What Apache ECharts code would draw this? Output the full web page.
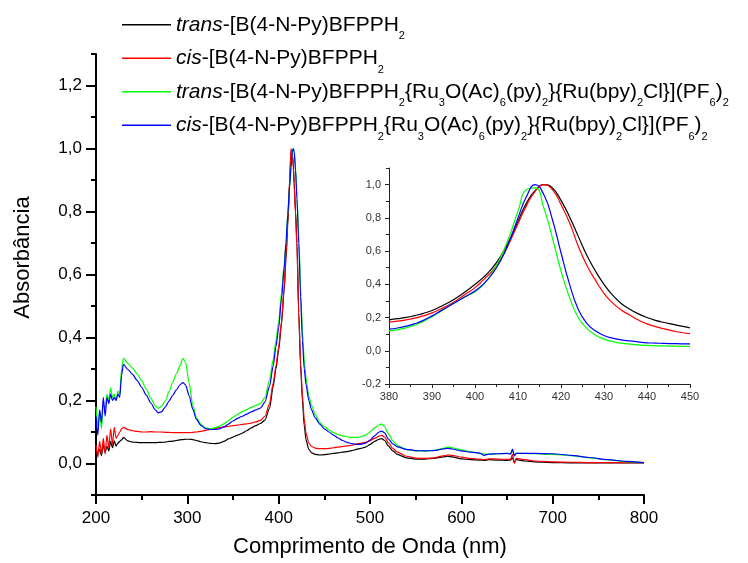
<!DOCTYPE html>
<html>
<head>
<meta charset="utf-8">
<script src="https://cdn.jsdelivr.net/npm/echarts@6/dist/echarts.min.js"></script>
<style>
html,body{margin:0;padding:0;background:#fff;}
#chart{width:748px;height:563px;}
</style>
</head>
<body>
<div id="chart"></div>
<script>
// ---------- main spectrum data ----------
const wl = [
 200,202,204,206,208,210,212,214,216,218,220,222,224,226,228,230,
 235,240,245,250,255,260,265,268,272,276,280,284,288,292,295,298,
 302,306,310,315,320,325,330,335,340,345,350,355,360,365,370,375,
 380,385,390,394,397,400,403,406,408,410,412,413.5,415,416,417,418.5,
 420,422,424,426,428,430,433,436,440,445,450,455,460,465,470,475,
 480,485,490,495,500,505,510,513,516,520,525,530,540,550,560,570,
 580,585,590,600,610,620,625,630,640,650,654,656,658,660,670,680,
 700,720,740,760,780,800
];
const transFree = [
 0.05,0.03,0.045,0.025,0.06,0.035,0.055,0.04,0.07,0.05,0.072,0.055,0.065,0.07,0.075,0.083,
 0.072,0.068,0.067,0.066,0.066,0.066,0.066,0.067,0.067,0.068,0.07,0.071,0.073,0.075,0.076,0.077,
 0.077,0.076,0.073,0.069,0.066,0.064,0.063,0.065,0.07,0.078,0.084,0.09,0.096,0.104,0.113,0.12,
 0.127,0.138,0.175,0.245,0.3,0.36,0.44,0.55,0.65,0.76,0.89,0.99,0.98,0.95,0.89,0.8,
 0.7,0.48,0.31,0.2,0.12,0.075,0.045,0.034,0.029,0.027,0.028,0.03,0.032,0.034,0.036,0.038,
 0.041,0.045,0.048,0.052,0.06,0.07,0.077,0.079,0.073,0.056,0.04,0.029,0.018,0.014,0.014,0.016,
 0.021,0.023,0.021,0.015,0.012,0.011,0.01,0.012,0.011,0.01,0.011,0.018,0.004,0.012,0.008,0.005,
 0.003,0.002,0.002,0.002,0.002,0.002
];
const cisFree = [
 0.06,0.02,0.07,0.03,0.08,0.03,0.09,0.05,0.11,0.06,0.115,0.08,0.09,0.1,0.11,0.115,
 0.108,0.104,0.102,0.1,0.1,0.101,0.1,0.1,0.1,0.099,0.099,0.098,0.098,0.098,0.098,0.098,
 0.098,0.099,0.1,0.102,0.105,0.108,0.111,0.114,0.116,0.118,0.12,0.122,0.124,0.126,0.128,0.132,
 0.137,0.15,0.19,0.255,0.31,0.37,0.45,0.56,0.66,0.77,0.9,1.0,0.98,0.94,0.88,0.79,
 0.69,0.47,0.32,0.22,0.14,0.095,0.065,0.054,0.049,0.047,0.047,0.048,0.05,0.052,0.054,0.056,
 0.058,0.062,0.064,0.067,0.072,0.08,0.087,0.089,0.084,0.066,0.048,0.036,0.023,0.017,0.016,0.018,
 0.024,0.027,0.026,0.02,0.016,0.014,0.012,0.015,0.014,0.013,0.014,0.03,0.0,0.016,0.012,0.008,
 0.005,0.004,0.003,0.003,0.003,0.003
];
const transRu = [
 0.18,0.12,0.16,0.11,0.19,0.17,0.22,0.2,0.24,0.21,0.22,0.2,0.23,0.22,0.3,0.335,
 0.318,0.303,0.285,0.262,0.236,0.207,0.183,0.175,0.182,0.2,0.228,0.258,0.285,0.31,0.334,0.322,
 0.255,0.185,0.145,0.124,0.113,0.11,0.113,0.118,0.126,0.136,0.147,0.156,0.164,0.171,0.178,0.185,
 0.19,0.21,0.265,0.33,0.39,0.45,0.54,0.63,0.7,0.79,0.88,0.94,0.99,1.0,0.99,0.94,
 0.85,0.72,0.56,0.42,0.33,0.27,0.215,0.185,0.155,0.13,0.117,0.107,0.098,0.092,0.088,0.085,
 0.083,0.083,0.085,0.09,0.1,0.113,0.123,0.125,0.118,0.095,0.072,0.057,0.044,0.04,0.04,0.042,
 0.048,0.052,0.05,0.043,0.037,0.033,0.03,0.029,0.031,0.032,0.031,0.044,0.027,0.032,0.032,0.031,
 0.029,0.025,0.018,0.012,0.006,0.003
];
const cisRu = [
 0.15,0.09,0.17,0.13,0.21,0.15,0.21,0.19,0.22,0.2,0.21,0.2,0.22,0.21,0.28,0.315,
 0.298,0.283,0.264,0.242,0.217,0.192,0.17,0.161,0.165,0.18,0.198,0.216,0.234,0.25,0.257,0.25,
 0.215,0.172,0.14,0.12,0.111,0.108,0.108,0.11,0.116,0.125,0.135,0.143,0.15,0.157,0.164,0.17,
 0.176,0.195,0.245,0.31,0.37,0.43,0.52,0.62,0.7,0.79,0.88,0.94,0.99,1.0,0.99,0.93,
 0.84,0.7,0.53,0.39,0.3,0.25,0.2,0.17,0.145,0.125,0.11,0.1,0.09,0.081,0.073,0.067,
 0.063,0.061,0.061,0.065,0.074,0.088,0.1,0.103,0.097,0.078,0.062,0.053,0.045,0.041,0.04,0.041,
 0.046,0.048,0.046,0.04,0.036,0.033,0.026,0.03,0.031,0.032,0.03,0.046,0.024,0.032,0.032,0.032,
 0.031,0.026,0.019,0.012,0.007,0.003
];

// ---------- inset data (380–450 nm, 2 nm steps) ----------
const insetWl = [380,382,384,386,388,390,392,394,396,398,400,402,404,406,408,410,412,414,416,418,420,422,424,426,428,430,432,434,436,438,440,442,444,446,448,450];
const insetTransFree = [0.186,0.193,0.201,0.212,0.225,0.242,0.266,0.292,0.323,0.36,0.4,0.443,0.497,0.57,0.665,0.78,0.89,0.965,1.0,0.98,0.905,0.805,0.69,0.575,0.48,0.4,0.335,0.285,0.25,0.222,0.2,0.183,0.17,0.159,0.148,0.138];
const insetCisFree = [0.172,0.178,0.186,0.196,0.21,0.228,0.251,0.277,0.308,0.344,0.38,0.428,0.48,0.55,0.65,0.765,0.875,0.96,1.0,0.97,0.88,0.77,0.63,0.515,0.425,0.345,0.288,0.245,0.215,0.185,0.162,0.145,0.132,0.12,0.11,0.103];
const insetTransRu = [0.12,0.127,0.138,0.155,0.177,0.205,0.237,0.27,0.3,0.328,0.355,0.4,0.47,0.565,0.69,0.84,0.97,0.98,0.86,0.68,0.48,0.32,0.2,0.135,0.095,0.07,0.055,0.046,0.04,0.036,0.032,0.03,0.029,0.028,0.027,0.027];
const insetCisRu = [0.13,0.137,0.148,0.163,0.183,0.21,0.24,0.27,0.3,0.33,0.36,0.403,0.462,0.545,0.66,0.8,0.93,1.0,0.94,0.79,0.59,0.4,0.25,0.165,0.12,0.092,0.076,0.066,0.059,0.053,0.048,0.046,0.044,0.043,0.042,0.042];

// ---------- ticks & labels ----------
const mainYMajor = [0, 0.2, 0.4, 0.6, 0.8, 1.0, 1.2];
const mainYMinor = [-0.1, 0.1, 0.3, 0.5, 0.7, 0.9, 1.1, 1.3];
const insetYMajor = [-0.2, 0, 0.2, 0.4, 0.6, 0.8, 1.0];
const insetYMinor = [-0.1, 0.1, 0.3, 0.5, 0.7, 0.9, 1.1];

const seriesNames = ['tFree', 'cFree', 'tRu', 'cRu'];
const seriesColors = ['#000000', '#ff0000', '#00ff00', '#0000ff'];
const legendText = [
 '{i|trans}-[B(4-N-Py)BFPPH{s|2}',
 '{i|cis}-[B(4-N-Py)BFPPH{s|2}',
 '{i|trans}-[B(4-N-Py)BFPPH{s|2}{Ru{s|3}O(Ac){s|6}(py){s|2}}{Ru(bpy){s|2}Cl}](PF{s|6}){s|2}',
 '{i|cis}-[B(4-N-Py)BFPPH{s|2}{Ru{s|3}O(Ac){s|6}(py){s|2}}{Ru(bpy){s|2}Cl}](PF{s|6}){s|2}'
];
const yAxisTitle = 'Absorbância';
const xAxisTitle = 'Comprimento de Onda (nm)';

const FONT = "'Liberation Sans', Arial, sans-serif";
const comma = v => (Math.abs(v) < 1e-9 ? 0 : v).toFixed(1).replace('.', ',');
const pairs = (xs, ys) => xs.map((x, i) => [x, ys[i]]);

const mainSets = [transFree, cisFree, transRu, cisRu];
const insetSets = [insetTransFree, insetCisFree, insetTransRu, insetCisRu];

const series = [];
mainSets.forEach((d, k) => series.push({
  name: seriesNames[k], type: 'line', xAxisIndex: 0, yAxisIndex: 0,
  data: pairs(wl, d), showSymbol: false, symbol: 'none',
  smooth: 0.25, smoothMonotone: 'x',
  lineStyle: { color: seriesColors[k], width: 1.2 }, itemStyle: { color: seriesColors[k] },
  z: 2 + k
}));
insetSets.forEach((d, k) => series.push({
  name: seriesNames[k], type: 'line', xAxisIndex: 1, yAxisIndex: 2,
  data: pairs(insetWl, d), showSymbol: false, symbol: 'none',
  smooth: 0.5,
  lineStyle: { color: seriesColors[k], width: 1.2 }, itemStyle: { color: seriesColors[k] },
  z: 2 + k
}));

const axisBlack = { color: '#000', width: 2 };
const insetLine = { color: '#222', width: 1 };

const option = {
  animation: false,
  backgroundColor: '#fff',
  textStyle: { fontFamily: FONT },
  legend: {
    data: seriesNames,
    orient: 'vertical', left: 122, top: 8, padding: 0,
    itemWidth: 49, itemHeight: 1.5, itemGap: 0,
    icon: 'rect',
    formatter: name => legendText[seriesNames.indexOf(name)],
    textStyle: {
      fontFamily: FONT, fontSize: 21, color: '#000', lineHeight: 33.5,
      rich: {
        i: { fontFamily: FONT, fontSize: 21, fontStyle: 'italic', color: '#000', lineHeight: 33.5 },
        s: { fontFamily: FONT, fontSize: 11, color: '#000', lineHeight: 12, verticalAlign: 'bottom' }
      }
    }
  },
  grid: [
    { left: 96, right: 104, top: 54, bottom: 67 },
    { left: 389, right: 58, top: 168, bottom: 179 }
  ],
  xAxis: [
    {
      type: 'value', gridIndex: 0, min: 200, max: 800, interval: 100,
      axisLine: { onZero: false, lineStyle: axisBlack },
      axisTick: { length: 9, lineStyle: axisBlack },
      minorTick: { show: true, splitNumber: 2, length: 5, lineStyle: axisBlack },
      splitLine: { show: false }, minorSplitLine: { show: false },
      axisLabel: { fontFamily: FONT, fontSize: 17, color: '#000', margin: 15 },
      name: xAxisTitle, nameLocation: 'middle', nameGap: 41,
      nameTextStyle: { fontFamily: FONT, fontSize: 22, color: '#000' }
    },
    {
      type: 'value', gridIndex: 1, min: 380, max: 450, interval: 10,
      axisLine: { onZero: false, lineStyle: insetLine },
      axisTick: { length: 4, lineStyle: insetLine },
      minorTick: { show: true, splitNumber: 2, length: 3, lineStyle: insetLine },
      splitLine: { show: false }, minorSplitLine: { show: false },
      axisLabel: { fontFamily: FONT, fontSize: 11, color: '#333', margin: 7 }
    }
  ],
  yAxis: [
    {
      type: 'value', gridIndex: 0, min: -0.1, max: 1.3,
      axisLine: { show: true, onZero: false, lineStyle: axisBlack },
      axisTick: { length: 10, lineStyle: axisBlack, customValues: mainYMajor },
      splitLine: { show: false },
      axisLabel: { fontFamily: FONT, fontSize: 17, color: '#000', margin: 14, customValues: mainYMajor, formatter: comma },
      name: yAxisTitle, nameLocation: 'middle', nameGap: 62,
      nameTextStyle: { fontFamily: FONT, fontSize: 22, color: '#000', padding: [0, 0, 0, 34] }
    },
    {
      type: 'value', gridIndex: 0, min: -0.1, max: 1.3, position: 'left',
      axisLine: { show: false },
      axisTick: { length: 5, lineStyle: axisBlack, customValues: mainYMinor },
      axisLabel: { show: false }, splitLine: { show: false }
    },
    {
      type: 'value', gridIndex: 1, min: -0.2, max: 1.1,
      axisLine: { show: true, onZero: false, lineStyle: insetLine },
      axisTick: { length: 4, lineStyle: insetLine, customValues: insetYMajor },
      splitLine: { show: false },
      axisLabel: { fontFamily: FONT, fontSize: 11, color: '#333', margin: 8, customValues: insetYMajor, formatter: comma }
    },
    {
      type: 'value', gridIndex: 1, min: -0.2, max: 1.1, position: 'left',
      axisLine: { show: false },
      axisTick: { length: 3, lineStyle: insetLine, customValues: insetYMinor },
      axisLabel: { show: false }, splitLine: { show: false }
    }
  ],
  series: series
};

const chart = echarts.init(document.getElementById('chart'), null, { renderer: 'canvas' });
chart.setOption(option);
</script>
</body>
</html>
